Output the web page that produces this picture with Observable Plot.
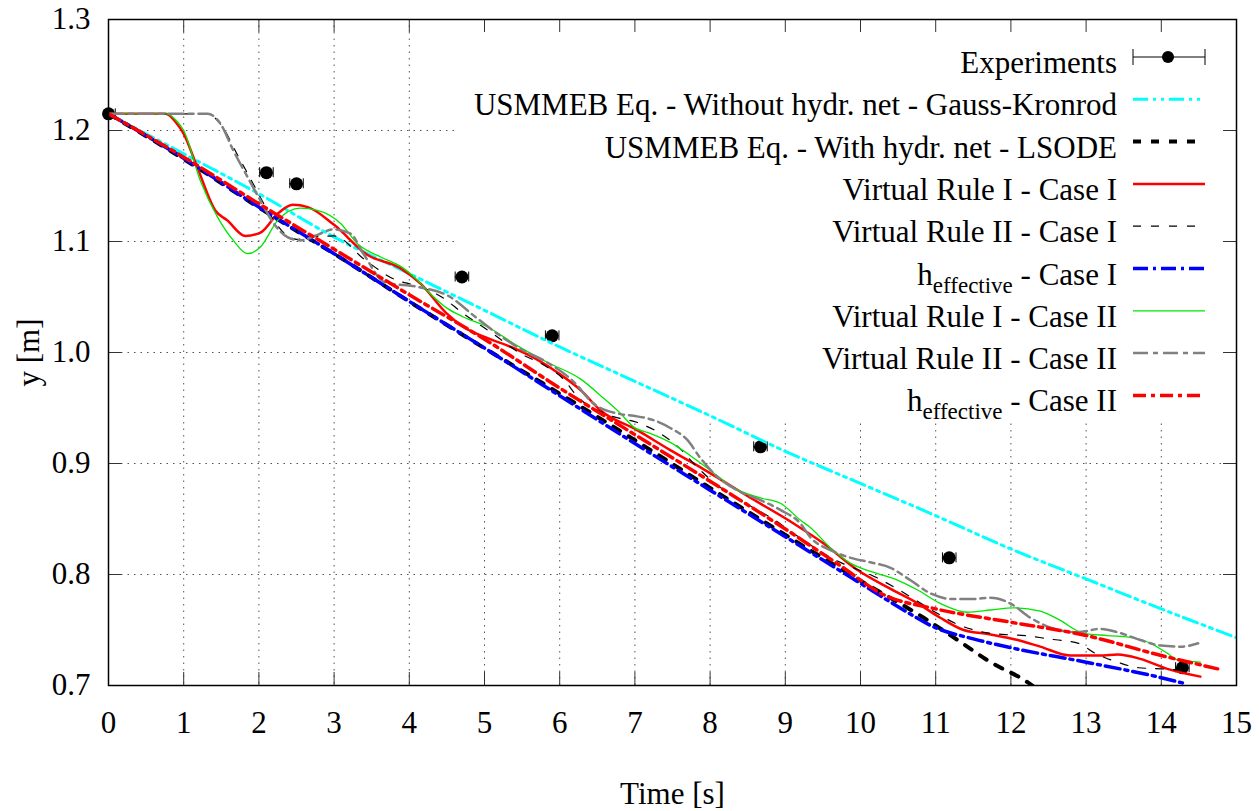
<!DOCTYPE html>
<html><head><meta charset="utf-8">
<script src="https://cdn.jsdelivr.net/npm/d3@7"></script>
<script src="https://cdn.jsdelivr.net/npm/@observablehq/plot@0.6"></script>
<style>
body{margin:0;background:#fff;}
#wrap{position:relative;width:1259px;height:811px;}
#legend{position:absolute;left:0;top:0;pointer-events:none;}
</style></head><body><div id="wrap"></div>
<script>
// ---------- DATA ----------
const expT = [0, 2.1, 2.5, 4.7, 5.9, 8.67, 11.18, 14.28];
const expY = [1.215, 1.162, 1.152, 1.068, 1.015, 0.915, 0.815, 0.716];
const expErr = [0.09, 0.09, 0.09, 0.09, 0.09, 0.09, 0.09, 0.09];

const gkT = [0,1,2,3,4,5,6,7,8,9,10,11,12,13,14,15];
const gkY = [1.215,1.179,1.143,1.104,1.071,1.038,1.005,0.974,0.943,0.911,0.882,0.853,0.823,0.796,0.769,0.743];

const lsT = [0,0.96,2.06,3.14,4.02,4.9,5.78,7.07,8.0,8.85,9.96,10.84,11.29,11.73,12.22,12.4];
const lsY = [1.215,1.176,1.128,1.083,1.045,1.008,0.972,0.918,0.878,0.842,0.796,0.761,0.741,0.721,0.703,0.694];

const vr1c1T = [0,0.76,0.9,1.0,1.18,1.42,1.58,1.82,2.02,2.25,2.45,2.65,3.0,3.44,3.88,4.15,4.5,4.72,5.0,5.35,5.61,5.97,6.28,6.54,7.03,7.47,7.91,8.54,9.11,9.51,9.96,10.4,10.76,11.06,11.37,11.73,12.09,12.39,12.79,13.19,13.42,13.72,14.08,14.52];
const vr1c1Y = [1.215,1.215,1.207,1.197,1.167,1.128,1.119,1.105,1.108,1.125,1.133,1.131,1.115,1.088,1.076,1.062,1.035,1.023,1.014,1.005,0.997,0.982,0.966,0.948,0.930,0.912,0.895,0.869,0.846,0.828,0.804,0.787,0.774,0.761,0.750,0.746,0.741,0.735,0.727,0.727,0.728,0.724,0.715,0.708];

const vr2c1T = [0,1.3,1.5,1.7,1.9,2.1,2.3,2.5,2.7,3.0,3.4,3.8,4.1,4.43,4.72,5.11,5.48,5.78,6.05,6.24,6.6,7.07,7.34,7.62,7.81,8.05,8.58,8.84,9.11,9.61,10.22,10.49,11.02,11.26,11.57,11.89,12.19,12.5,12.9,13.12,13.42,13.7,14.0,14.4];
const vr2c1Y = [1.215,1.215,1.205,1.18,1.155,1.13,1.11,1.102,1.104,1.105,1.084,1.066,1.06,1.05,1.035,1.017,0.999,0.989,0.976,0.960,0.945,0.936,0.927,0.912,0.898,0.883,0.860,0.850,0.837,0.815,0.797,0.787,0.765,0.756,0.749,0.746,0.745,0.742,0.738,0.729,0.721,0.716,0.715,0.713];

const he1T = [0,1,2,3,4,5,6,7,8,9,10,10.5,11,11.5,12,13,14,14.3];
const he1Y = [1.215,1.175,1.131,1.089,1.046,1.004,0.961,0.918,0.876,0.834,0.792,0.771,0.752,0.742,0.734,0.721,0.707,0.702];

const vr1c2T = [0,0.78,0.9,1.0,1.22,1.45,1.66,1.85,2.02,2.25,2.55,2.78,3.09,3.31,3.62,3.92,4.11,4.28,4.5,4.72,5.04,5.44,5.84,6.28,6.58,6.81,6.98,7.21,7.47,7.78,8.0,8.31,8.67,8.94,9.2,9.34,9.6,9.87,10.22,10.49,10.76,11.06,11.42,11.73,12.03,12.39,12.62,12.97,13.28,13.63,13.86,14.08,14.22,14.52];
const vr1c2Y = [1.215,1.215,1.209,1.2,1.155,1.122,1.101,1.089,1.095,1.119,1.130,1.128,1.116,1.098,1.086,1.076,1.065,1.053,1.040,1.032,1.023,1.006,0.991,0.976,0.959,0.945,0.933,0.927,0.919,0.905,0.894,0.878,0.869,0.864,0.849,0.842,0.824,0.810,0.801,0.795,0.786,0.774,0.766,0.768,0.770,0.767,0.760,0.747,0.745,0.743,0.738,0.729,0.723,0.721];

const vr2c2T = [0,1.32,1.49,1.66,1.85,2.02,2.2,2.38,2.55,2.78,2.99,3.22,3.39,3.68,4.12,4.52,4.88,5.17,5.51,5.81,6.18,6.45,6.77,6.98,7.25,7.47,7.7,7.87,8.05,8.36,8.67,8.94,9.2,9.34,9.6,9.87,10.13,10.4,10.66,10.93,11.2,11.5,11.73,11.99,12.26,12.53,12.89,13.19,13.42,13.72,13.99,14.26,14.49];
const vr2c2Y = [1.215,1.215,1.206,1.182,1.158,1.137,1.116,1.104,1.101,1.106,1.111,1.107,1.089,1.063,1.059,1.051,1.032,1.017,1.002,0.992,0.974,0.954,0.945,0.943,0.939,0.932,0.921,0.905,0.891,0.876,0.867,0.858,0.846,0.833,0.822,0.815,0.811,0.806,0.795,0.783,0.778,0.778,0.779,0.774,0.761,0.752,0.748,0.751,0.748,0.741,0.736,0.735,0.738];

const he2T = [0,1,2,3,4,5,6,7,8,9,9.73,10.3,11,12,13,14,14.75];
const he2Y = [1.215,1.176,1.134,1.093,1.052,1.012,0.968,0.926,0.884,0.841,0.808,0.782,0.769,0.757,0.745,0.727,0.715];

const xTicks = [0,1,2,3,4,5,6,7,8,9,10,11,12,13,14,15];
const yTicks = [0.7,0.8,0.9,1.0,1.1,1.2,1.3];
const legendLabels = [
  ["Experiments"],
  ["USMMEB Eq. - Without hydr. net - Gauss-Kronrod"],
  ["USMMEB Eq. - With hydr. net - LSODE"],
  ["Virtual Rule I - Case I"],
  ["Virtual Rule II - Case I"],
  ["h", "effective", " - Case I"],
  ["Virtual Rule I - Case II"],
  ["Virtual Rule II - Case II"],
  ["h", "effective", " - Case II"]
];

// ---------- STYLES ----------
const FONT = "'Liberation Serif', 'Times New Roman', 'DejaVu Serif', serif";
const styles = [
  null,
  {stroke:"#00ffff", strokeWidth:3, dash:"15,5,3,5,3,5"},
  {stroke:"#000000", strokeWidth:4, dash:"8,10"},
  {stroke:"#ff0000", strokeWidth:2.5, dash:null},
  {stroke:"#000000", strokeWidth:1.2, dash:"8,10"},
  {stroke:"#0000ff", strokeWidth:3.5, dash:"15,5,3,5"},
  {stroke:"#00e600", strokeWidth:1.3, dash:null},
  {stroke:"#808080", strokeWidth:2.5, dash:"15,5,5,5"},
  {stroke:"#ff0000", strokeWidth:3.5, dash:"13,5,4,5"}
];
const seriesT = [null, gkT, lsT, vr1c1T, vr2c1T, he1T, vr1c2T, vr2c2T, he2T];
const seriesY = [null, gkY, lsY, vr1c1Y, vr2c1Y, he1Y, vr1c2Y, vr2c2Y, he2Y];

const keyLeft = 4.64, keyBottom = 0.939;   // grid hidden behind the key box
const W = 1259, H = 811, mL = 108, mR = 23, mT = 19, mB = 126;
const innerW = W - mL - mR, innerH = H - mT - mB;
const tickLen = 13, capHalf = 0.0045;

const exp = expT.map((t, i) => ({t, y: expY[i], e: expErr[i]}));
const gridDash = "1.5,5", gridColor = "#555";

const lineMarks = [];
for (let s = 1; s < seriesT.length; s++) {
  const d = seriesT[s].map((t, i) => ({t, y: seriesY[s][i]}));
  const st = styles[s];
  lineMarks.push(Plot.line(d, {x: "t", y: "y", stroke: st.stroke, strokeWidth: st.strokeWidth,
    strokeDasharray: st.dash || undefined, curve: "monotone-x", clip: true}));
}

const chart = Plot.plot({
  width: W, height: H, marginLeft: mL, marginRight: mR, marginTop: mT, marginBottom: mB,
  style: {fontFamily: FONT, fontSize: "31px", color: "black", background: "white"},
  x: {domain: [0, 15]},
  y: {domain: [0.7, 1.3]},
  marks: [
    Plot.ruleY([0.8, 0.9], {stroke: gridColor, strokeDasharray: gridDash}),
    Plot.ruleY([1.0, 1.1, 1.2], {x1: 0, x2: keyLeft, stroke: gridColor, strokeDasharray: gridDash}),
    Plot.ruleX([1, 2, 3, 4], {stroke: gridColor, strokeDasharray: gridDash}),
    Plot.ruleX([5,6,7,8,9,10,11,12,13,14], {y1: 0.7, y2: keyBottom, stroke: gridColor, strokeDasharray: gridDash}),
    Plot.ruleX(xTicks, {insetTop: innerH - tickLen, stroke: "#333"}),
    Plot.ruleX(xTicks, {insetBottom: innerH - tickLen, stroke: "#333"}),
    Plot.ruleY(yTicks, {insetRight: innerW - tickLen, stroke: "#333"}),
    Plot.ruleY(yTicks, {insetLeft: innerW - tickLen, stroke: "#333"}),
    Plot.axisX({ticks: xTicks, tickSize: 0, tickPadding: 25, tickFormat: d3.format("d"),
      label: "Time [s]", labelAnchor: "center", labelOffset: 118, labelArrow: "none"}),
    Plot.axisY({ticks: yTicks, tickSize: 0, tickPadding: 18, tickFormat: d3.format(".1f"),
      label: "y [m]", labelAnchor: "center", labelOffset: 92, labelArrow: "none"}),
    Plot.ruleY(exp, {y: "y", x1: d => d.t - d.e, x2: d => d.t + d.e, stroke: "black", strokeWidth: 1, clip: true}),
    Plot.ruleX(exp, {x: d => d.t - d.e, y1: d => d.y - capHalf, y2: d => d.y + capHalf, stroke: "black", clip: true}),
    Plot.ruleX(exp, {x: d => d.t + d.e, y1: d => d.y - capHalf, y2: d => d.y + capHalf, stroke: "black", clip: true}),
    Plot.dot(exp, {x: "t", y: "y", r: 6.5, fill: "black"}),
    ...lineMarks,
    Plot.frame({stroke: "black", strokeWidth: 1.5})
  ]
});
const wrap = document.getElementById("wrap");
wrap.appendChild(chart);

// ---------- LEGEND ----------
const leg = d3.select(wrap).append("svg").attr("id", "legend").attr("width", W).attr("height", H)
  .style("font-family", FONT).style("font-size", "31px");
const rowY0 = 57, rowStep = 42.3, textRight = 1117, sx1 = 1133, sx2 = 1205;
legendLabels.forEach((lab, i) => {
  const cy = rowY0 + i * rowStep;
  const t = leg.append("text").attr("x", textRight).attr("y", cy + 16).attr("text-anchor", "end").attr("fill", "black");
  if (lab.length === 1) t.text(lab[0]);
  else {
    t.append("tspan").text(lab[0]);
    t.append("tspan").attr("font-size", "23px").attr("dy", 8).text(lab[1]);
    t.append("tspan").attr("dy", -8).text(lab[2]);
  }
  if (i === 0) {
    leg.append("line").attr("x1", sx1).attr("x2", sx2).attr("y1", cy).attr("y2", cy).attr("stroke", "black");
    leg.append("line").attr("x1", sx1).attr("x2", sx1).attr("y1", cy - 8).attr("y2", cy + 8).attr("stroke", "black");
    leg.append("line").attr("x1", sx2).attr("x2", sx2).attr("y1", cy - 8).attr("y2", cy + 8).attr("stroke", "black");
    leg.append("circle").attr("cx", 1168).attr("cy", cy).attr("r", 6).attr("fill", "black");
  } else {
    const st = styles[i];
    leg.append("line").attr("x1", sx1).attr("x2", sx2).attr("y1", cy).attr("y2", cy)
      .attr("stroke", st.stroke).attr("stroke-width", st.strokeWidth)
      .attr("stroke-dasharray", st.dash);
  }
});
</script></body></html>
